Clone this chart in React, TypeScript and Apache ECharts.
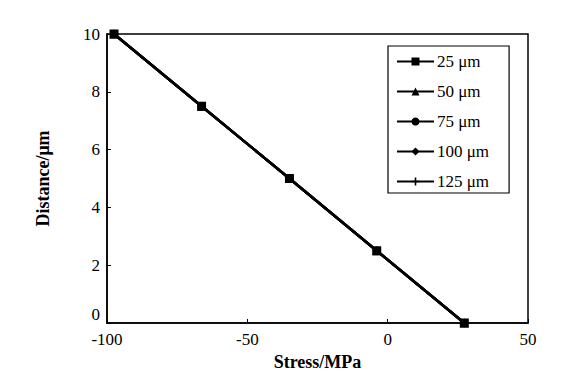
import React, { useEffect, useRef } from "react";
import * as echarts from "echarts";

const seriesNames = ["25 μm", "50 μm", "75 μm", "100 μm", "125 μm"];
const stress = [-97.5, -66.3, -35.0, -3.9, 27.3];
const distance = [10, 7.5, 5, 2.5, 0];
const symbols = [
  "rect",
  "triangle",
  "circle",
  "diamond",
  "path://M0,4L10,4L10,6L0,6Z M4,0L6,0L6,10L4,10Z",
];
const symbolSizes = [9, 9, 8, 9, 7];
const lineWidths = [2.5, 2.5, 2.5, 2.5, 1.5];

const FONT = "'Liberation Serif', 'Times New Roman', serif";

export default function App() {
  const ref = useRef<HTMLDivElement>(null);
  useEffect(() => {
    if (!ref.current) return;
    const chart = echarts.init(ref.current, null, { renderer: "svg" });
    const series = seriesNames.map((name, i) => ({
      name,
      type: "line",
      data: stress.map((x, j) => [x, distance[j]]),
      symbol: symbols[i],
      symbolSize: symbolSizes[i],
      showAllSymbol: true,
      lineStyle: { color: "#000", width: lineWidths[i] },
      itemStyle: { color: "#000" },
      z: 10 - i,
    }));
    chart.setOption({
      animation: false,
      backgroundColor: "#fff",
      textStyle: { fontFamily: FONT, color: "#000" },
      grid: {
        left: 107,
        right: 47,
        top: 34,
        bottom: 60,
        show: true,
        borderColor: "#000",
        borderWidth: 1.5,
      },
      legend: {
        orient: "vertical",
        left: 388,
        top: 46,
        padding: [7, 20, 3, 8],
        itemGap: 13,
        itemWidth: 37,
        itemHeight: 10,
        borderColor: "#000",
        borderWidth: 1.2,
        textStyle: { fontFamily: FONT, fontSize: 17, color: "#000", padding: [0, 0, 0, -2] },
        data: seriesNames,
      },
      xAxis: {
        type: "value",
        min: -100,
        max: 50,
        interval: 50,
        name: "Stress/MPa",
        nameLocation: "middle",
        nameGap: 26,
        nameTextStyle: { fontFamily: FONT, fontSize: 18, fontWeight: "bold", color: "#000" },
        axisLine: { show: true, onZero: false, lineStyle: { color: "#000", width: 1.5 } },
        axisTick: { show: true, inside: true, length: 4, lineStyle: { color: "#000" } },
        axisLabel: { fontFamily: FONT, fontSize: 17, color: "#000", margin: 8 },
        splitLine: { show: false },
      },
      yAxis: {
        type: "value",
        min: 0,
        max: 10,
        interval: 2,
        name: "Distance/μm",
        nameLocation: "middle",
        nameGap: 55,
        nameTextStyle: { fontFamily: FONT, fontSize: 18, fontWeight: "bold", color: "#000" },
        axisLine: { show: true, onZero: false, lineStyle: { color: "#000", width: 1.5 } },
        axisTick: { show: true, inside: true, length: 4, lineStyle: { color: "#000" } },
        axisLabel: {
          fontFamily: FONT,
          fontSize: 17,
          color: "#000",
          margin: 7,
          verticalAlignMinLabel: "bottom",
        },
        splitLine: { show: false },
      },
      series,
    });
    return () => chart.dispose();
  }, []);
  return <div ref={ref} style={{ width: 575, height: 383, position: "absolute", left: 0, top: 0 }} />;
}
